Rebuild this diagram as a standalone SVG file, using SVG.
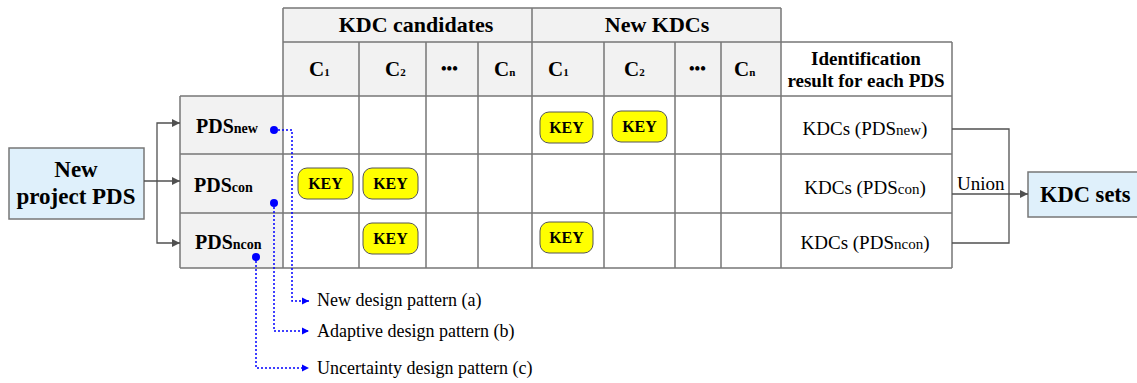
<svg xmlns="http://www.w3.org/2000/svg" width="1137" height="383" viewBox="0 0 1137 383">
<style>
text{font-family:'Liberation Serif','Times New Roman',Times,'DejaVu Serif',serif;fill:#000}
.grid{stroke:#777;stroke-width:1.5;fill:none}
.hd{font-weight:bold}
.key rect{fill:#ffff00;stroke:#555;stroke-width:1}
.key text{font-weight:bold;font-size:16px;text-anchor:middle}
.conn{stroke:#505050;stroke-width:1.3;fill:none}
.dot{stroke:#0000ff;stroke-width:1.5;stroke-dasharray:2,2;fill:none}
</style>
<defs>
<marker id="ah" viewBox="0 0 10 10" refX="10" refY="5" markerWidth="8" markerHeight="8" markerUnits="userSpaceOnUse" orient="auto"><path d="M0,0 L10,5 L0,10 z" fill="#505050"/></marker>
<marker id="bh" viewBox="0 0 10 10" refX="10" refY="5" markerWidth="7" markerHeight="8" markerUnits="userSpaceOnUse" orient="auto"><path d="M0,0 L10,5 L0,10 z" fill="#0000ff"/></marker>
</defs>
<g id="table">
<rect x="283" y="8" width="498" height="88" fill="#f2f2f2"/>
<rect x="180" y="96" width="103" height="172" fill="#f2f2f2"/>
<rect x="781" y="42" width="171" height="225" fill="#fff"/>
<path class="grid" d="M283,8 H781 M283,42 H952 M180,96 H952 M180,154 H952 M180,213 H952 M180,268 H952 M283,8 V268 M359,42 V268 M426,42 V268 M478,42 V268 M532,8 V268 M604,42 V268 M675,42 V268 M721,42 V268 M781,8 V268 M952,42 V268 M180,96 V268"/>
<text class="hd" x="416" y="32" font-size="22" text-anchor="middle">KDC candidates</text>
<text class="hd" x="657" y="32" font-size="22" text-anchor="middle">New KDCs</text>
<g class="hd" font-size="21">
<text x="309" y="76">C<tspan font-size="11">1</tspan></text>
<text x="385" y="76">C<tspan font-size="11">2</tspan></text>
<text x="441" y="74" font-size="16">•••</text>
<text x="494" y="76">C<tspan font-size="11">n</tspan></text>
<text x="548" y="76">C<tspan font-size="11">1</tspan></text>
<text x="624" y="76">C<tspan font-size="11">2</tspan></text>
<text x="689" y="74" font-size="16">•••</text>
<text x="734" y="76">C<tspan font-size="11">n</tspan></text>
</g>
<text class="hd" x="866" y="65" font-size="19" text-anchor="middle">Identification</text>
<text class="hd" x="866" y="87" font-size="19" text-anchor="middle">result for each PDS</text>
<text x="865" y="135" font-size="19" text-anchor="middle">KDCs (PDS<tspan font-size="15">new</tspan>)</text>
<text x="865" y="194" font-size="19" text-anchor="middle">KDCs (PDS<tspan font-size="15">con</tspan>)</text>
<text x="865" y="249" font-size="19" text-anchor="middle">KDCs (PDS<tspan font-size="15">ncon</tspan>)</text>
</g>
<g id="pds-new"><text class="hd" x="196" y="133" font-size="20">PDS<tspan font-size="14">new</tspan></text></g>
<g id="pds-con"><text class="hd" x="194" y="192" font-size="20">PDS<tspan font-size="14">con</tspan></text></g>
<g id="pds-ncon"><text class="hd" x="195" y="249" font-size="20">PDS<tspan font-size="14">ncon</tspan></text></g>
<g id="new-project">
<rect x="9" y="148" width="135" height="71" fill="#dff0fb" stroke="#777" stroke-width="1.5"/>
<text class="hd" x="76" y="177" font-size="23" text-anchor="middle">New</text>
<text class="hd" x="76" y="204" font-size="23" text-anchor="middle">project PDS</text>
</g>
<g id="kdc-sets">
<rect x="1028" y="172" width="115" height="45" fill="#dff0fb" stroke="#777" stroke-width="1.5"/>
<text class="hd" x="1040" y="202" font-size="22.5">KDC sets</text>
</g>
<g id="keys">
<g class="key"><rect x="540" y="112" width="53" height="31" rx="9"/><text x="566.5" y="133">KEY</text></g>
<g class="key"><rect x="612" y="111" width="55" height="31" rx="9"/><text x="639.5" y="132">KEY</text></g>
<g class="key"><rect x="298" y="168" width="55" height="31" rx="9"/><text x="325.5" y="189">KEY</text></g>
<g class="key"><rect x="363" y="168" width="55" height="31" rx="9"/><text x="390.5" y="189">KEY</text></g>
<g class="key"><rect x="363" y="223" width="55" height="31" rx="9"/><text x="390.5" y="244">KEY</text></g>
<g class="key"><rect x="540" y="222" width="53" height="31" rx="9"/><text x="566.5" y="243">KEY</text></g>
</g>
<g id="connectors">
<path class="conn" d="M144,181 H180" marker-end="url(#ah)"/>
<path class="conn" d="M157,181 V123 H180" marker-end="url(#ah)"/>
<path class="conn" d="M157,181 V243 H180" marker-end="url(#ah)"/>
<path class="conn" d="M952,129 H1009 V243 H952"/>
<path class="conn" d="M952,194 H1028" marker-end="url(#ah)"/>
<text x="957" y="190" font-size="19">Union</text>
<circle cx="274" cy="130" r="4" fill="#0000ff"/>
<circle cx="274" cy="203" r="4" fill="#0000ff"/>
<circle cx="256" cy="257" r="4" fill="#0000ff"/>
<path class="dot" d="M274,130 H292 V301 H309" marker-end="url(#bh)"/>
<path class="dot" d="M274,203 V331 H309" marker-end="url(#bh)"/>
<path class="dot" d="M256,257 V368 H309" marker-end="url(#bh)"/>
<text x="317" y="306" font-size="18">New design pattern (a)</text>
<text x="317" y="337" font-size="18">Adaptive design pattern (b)</text>
<text x="317" y="374" font-size="18">Uncertainty  design pattern (c)</text>
</g>
</svg>
